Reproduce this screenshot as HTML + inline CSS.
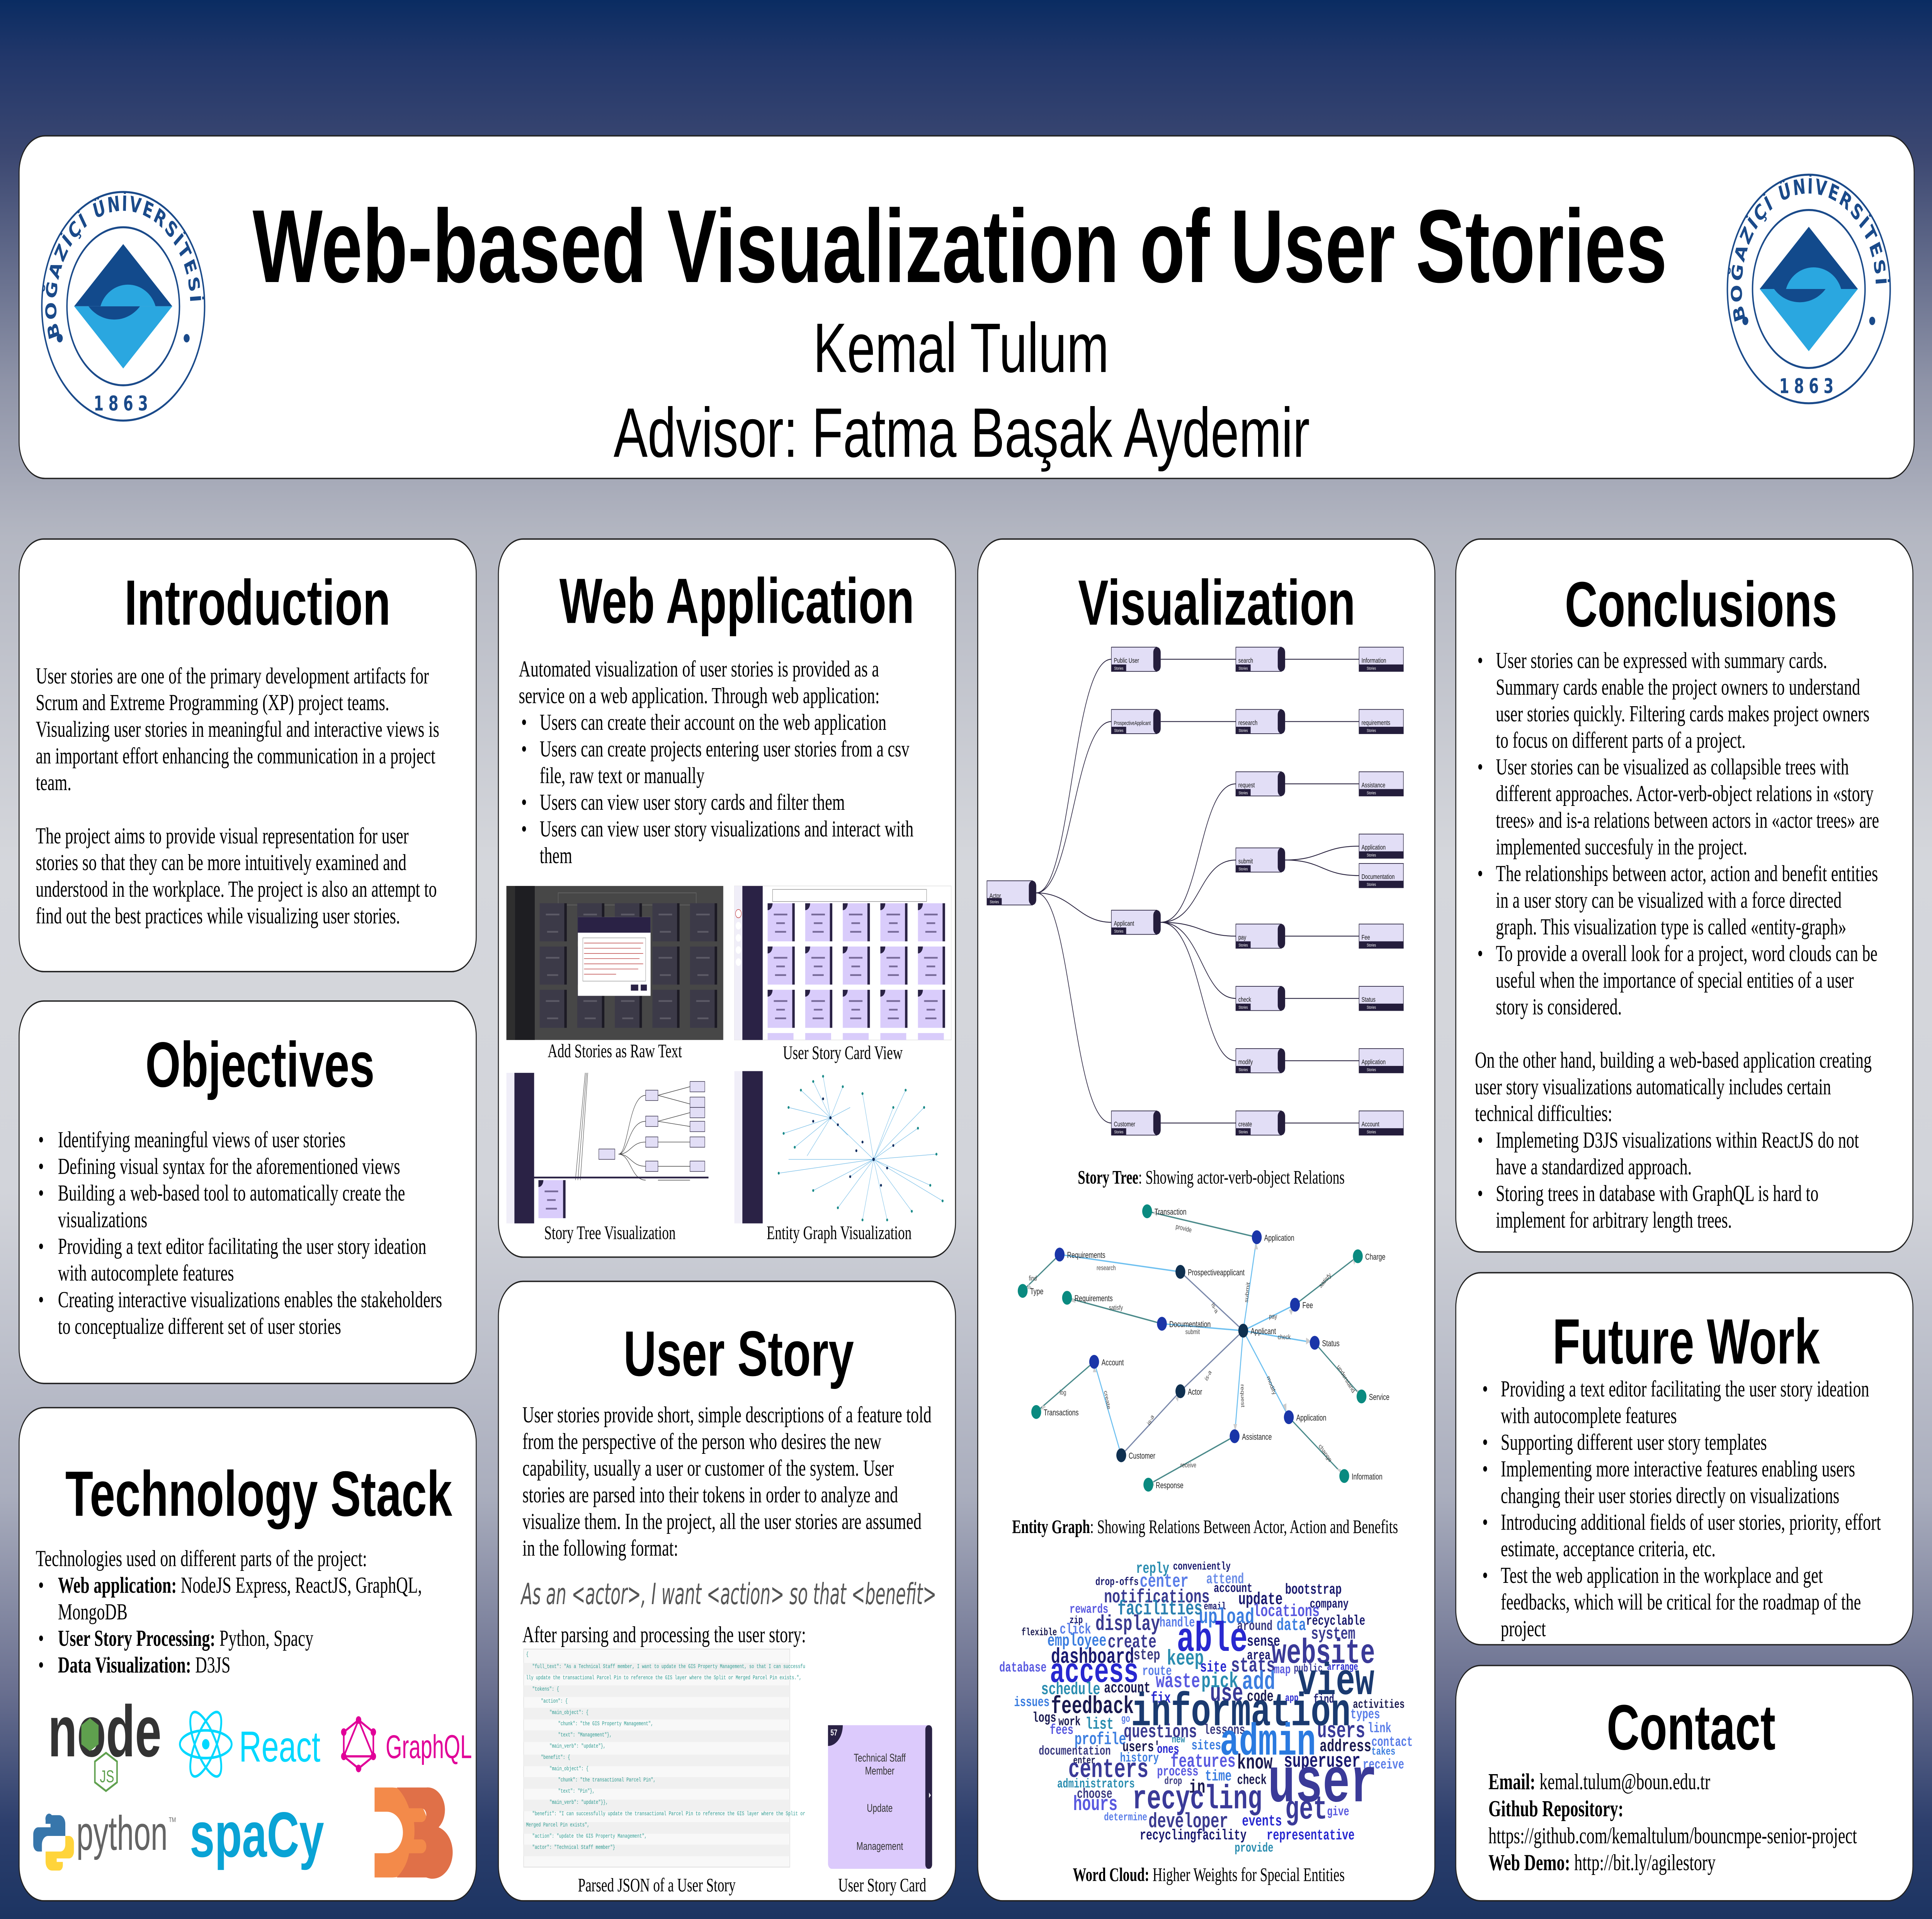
<!DOCTYPE html>
<html><head><meta charset="utf-8">
<style>
html,body{margin:0;padding:0;width:100%;height:100%;overflow:hidden;background:#b4b7c2}
#r{position:fixed;left:0;top:0;width:100vw;height:100vh;display:block}
.tt{font-family:"Liberation Sans",sans-serif;font-weight:bold}
.bd{font-family:"Liberation Serif",serif;font-size:13.2px;fill:#000}
.cp{font-family:"Liberation Serif",serif;font-size:11px;fill:#000}
</style></head><body>
<svg id="r" viewBox="0 0 1568 1109" preserveAspectRatio="none" xmlns="http://www.w3.org/2000/svg">
<defs>
<linearGradient id="bg" x1="0" y1="0" x2="0" y2="1">
<stop offset="0" stop-color="#0a2c62"/><stop offset="0.03" stop-color="#22376a"/><stop offset="0.08" stop-color="#3b4771"/><stop offset="0.2" stop-color="#8f94a8"/><stop offset="0.28" stop-color="#b4b7c2"/><stop offset="0.45" stop-color="#d5d7dc"/><stop offset="0.62" stop-color="#d2d4da"/><stop offset="0.78" stop-color="#a9adbd"/><stop offset="0.88" stop-color="#6a7090"/><stop offset="0.95" stop-color="#2d3f6d"/><stop offset="1" stop-color="#1c3462"/>
</linearGradient>
<symbol id="logo" viewBox="-70 -70 140 140" overflow="visible">
<circle cx="0" cy="0" r="68" fill="#fff" stroke="#1a4a8a" stroke-width="1.2"/>
<circle cx="0" cy="0" r="47" fill="none" stroke="#1a4a8a" stroke-width="1.2"/>
<path id="arc" d="M-52 20 A56 56 0 1 1 52 20" fill="none"/>
<text font-family="DejaVu Sans,sans-serif" font-weight="bold" font-size="12.5" fill="#1a4a8a" letter-spacing="1.2"><textPath href="#arc" startOffset="2">BOĞAZİÇİ ÜNİVERSİTESİ</textPath></text>
<text x="0" y="62" text-anchor="middle" font-family="DejaVu Sans,sans-serif" font-weight="bold" font-size="12" fill="#1a4a8a" letter-spacing="4">1863</text>
<circle cx="-53" cy="19" r="2.5" fill="#1a4a8a"/><circle cx="53" cy="19" r="2.5" fill="#1a4a8a"/>
<polygon points="0,-37 -41,0 41,0" fill="#124a8c"/>
<polygon points="0,37 -41,0 41,0" fill="#2aa7e0"/>
<path d="M-29 0 A27 20 0 0 0 14 0 Z" fill="#124a8c"/>
<path d="M-19 0 A24 18 0 0 1 27 0 Z" fill="#2aa7e0"/>
</symbol>
<symbol id="nd" overflow="visible">
<rect x="0" y="0" width="37" height="14" fill="#e2def6" stroke="#2a2440" stroke-width="0.4"/>
<rect x="34" y="0" width="6" height="14" rx="3" fill="#241d3c"/>
<rect x="0" y="10" width="12" height="4" fill="#241d3c"/>
<text x="6" y="13" font-size="2.4" fill="#fff" text-anchor="middle" font-family="Liberation Sans,sans-serif">Stories</text>
</symbol>
<symbol id="lf" overflow="visible">
<rect x="0" y="0" width="36" height="14" fill="#e2def6" stroke="#2a2440" stroke-width="0.4"/>
<rect x="0" y="10" width="36" height="4" fill="#241d3c"/>
<text x="10" y="13" font-size="2.4" fill="#fff" text-anchor="middle" font-family="Liberation Sans,sans-serif">Stories</text>
</symbol>
<symbol id="card" overflow="visible">
<rect x="0" y="0" width="21" height="22" fill="#d9ccfb"/><rect x="20" y="0" width="2" height="22" fill="#2a2245"/>
<path d="M0 0 H4 A4 4 0 0 1 0 4 Z" fill="#2a2245"/>
<rect x="5" y="6" width="11" height="1" fill="#776a99"/><rect x="7" y="11" width="7" height="1" fill="#776a99"/><rect x="6" y="16" width="9" height="1" fill="#776a99"/>
</symbol>
<symbol id="dcard" overflow="visible">
<rect x="0" y="0" width="21" height="22" fill="#3c3a48"/><rect x="20" y="0" width="2" height="22" fill="#1c1a24"/>
<rect x="5" y="6" width="11" height="1" fill="#5c5a66"/><rect x="6" y="16" width="9" height="1" fill="#5c5a66"/>
</symbol>
</defs>

<rect x="0" y="0" width="1568" height="1109" fill="url(#bg)"/>

<g fill="#fff" stroke="#222" stroke-width="0.8">
<rect x="15.5" y="78.5" width="1538" height="198" rx="21"/>
<rect x="15.5" y="311.5" width="371" height="250" rx="20"/>
<rect x="15.5" y="578.5" width="371" height="221" rx="20"/>
<rect x="15.5" y="813.5" width="371" height="285" rx="20"/>
<rect x="404.5" y="311.5" width="371" height="415" rx="20"/>
<rect x="404.5" y="740.5" width="371" height="358" rx="20"/>
<rect x="793.5" y="311.5" width="371" height="787" rx="20"/>
<rect x="1181.5" y="311.5" width="371" height="412" rx="20"/>
<rect x="1181.5" y="735.5" width="371" height="215" rx="20"/>
<rect x="1181.5" y="962.5" width="371" height="136" rx="20"/>
</g>

<use href="#logo" x="32" y="109" width="136" height="136"/>
<use href="#logo" x="1400" y="99" width="136" height="136"/>

<!-- titles -->
<g class="tt" fill="#000">
<text x="205" y="163" font-size="60" textLength="1148" lengthAdjust="spacingAndGlyphs">Web-based Visualization of User Stories</text>
<text x="660" y="215" font-size="40.5" font-weight="normal" textLength="240" lengthAdjust="spacingAndGlyphs">Kemal Tulum</text>
<text x="498" y="264" font-size="40.5" font-weight="normal" textLength="565" lengthAdjust="spacingAndGlyphs">Advisor: Fatma Başak Aydemir</text>
<text x="101" y="361" font-size="37" textLength="216" lengthAdjust="spacingAndGlyphs">Introduction</text>
<text x="118" y="628" font-size="37" textLength="186" lengthAdjust="spacingAndGlyphs">Objectives</text>
<text x="53" y="876" font-size="37" textLength="314" lengthAdjust="spacingAndGlyphs">Technology Stack</text>
<text x="454" y="360" font-size="37" textLength="288" lengthAdjust="spacingAndGlyphs">Web Application</text>
<text x="506" y="795" font-size="37" textLength="187" lengthAdjust="spacingAndGlyphs">User Story</text>
<text x="875" y="361" font-size="37" textLength="225" lengthAdjust="spacingAndGlyphs">Visualization</text>
<text x="1270" y="362" font-size="37" textLength="221" lengthAdjust="spacingAndGlyphs">Conclusions</text>
<text x="1260" y="788" font-size="37" textLength="217" lengthAdjust="spacingAndGlyphs">Future Work</text>
<text x="1304" y="1011" font-size="37" textLength="137" lengthAdjust="spacingAndGlyphs">Contact</text>
</g>

<!-- body text -->
<g class="bd">
<text y="395"><tspan x="29">User stories are one of the primary development artifacts for</tspan><tspan x="29" dy="15.4">Scrum and Extreme Programming (XP) project teams.</tspan><tspan x="29" dy="15.4">Visualizing user stories in meaningful and interactive views is</tspan><tspan x="29" dy="15.4">an important effort enhancing the communication in a project</tspan><tspan x="29" dy="15.4">team.</tspan><tspan x="29" dy="30.8">The project aims to provide visual representation for user</tspan><tspan x="29" dy="15.4">stories so that they can be more intuitively examined and</tspan><tspan x="29" dy="15.4">understood in the workplace. The project is also an attempt to</tspan><tspan x="29" dy="15.4">find out the best practices while visualizing user stories.</tspan></text>

<text y="663"><tspan x="31">•</tspan><tspan x="47">Identifying meaningful views of user stories</tspan><tspan x="31" dy="15.4">•</tspan><tspan x="47">Defining visual syntax for the aforementioned views</tspan><tspan x="31" dy="15.4">•</tspan><tspan x="47">Building a web-based tool to automatically create the</tspan><tspan x="47" dy="15.4">visualizations</tspan><tspan x="31" dy="15.4">•</tspan><tspan x="47">Providing a text editor facilitating the user story ideation</tspan><tspan x="47" dy="15.4">with autocomplete features</tspan><tspan x="31" dy="15.4">•</tspan><tspan x="47">Creating interactive visualizations enables the stakeholders</tspan><tspan x="47" dy="15.4">to conceptualize different set of user stories</tspan></text>

<text y="905"><tspan x="29">Technologies used on different parts of the project:</tspan><tspan x="31" dy="15.4">•</tspan><tspan x="47" font-weight="bold">Web application:</tspan><tspan> NodeJS Express, ReactJS, GraphQL,</tspan><tspan x="47" dy="15.4">MongoDB</tspan><tspan x="31" dy="15.4">•</tspan><tspan x="47" font-weight="bold">User Story Processing:</tspan><tspan> Python, Spacy</tspan><tspan x="31" dy="15.4">•</tspan><tspan x="47" font-weight="bold">Data Visualization:</tspan><tspan> D3JS</tspan></text>

<text y="391"><tspan x="421">Automated visualization of user stories is provided as a</tspan><tspan x="421" dy="15.4">service on a web application. Through web application:</tspan><tspan x="423" dy="15.4">•</tspan><tspan x="438">Users can create their account on the web application</tspan><tspan x="423" dy="15.4">•</tspan><tspan x="438">Users can create projects entering user stories from a csv</tspan><tspan x="438" dy="15.4">file, raw text or manually</tspan><tspan x="423" dy="15.4">•</tspan><tspan x="438">Users can view user story cards and filter them</tspan><tspan x="423" dy="15.4">•</tspan><tspan x="438">Users can view user story visualizations and interact with</tspan><tspan x="438" dy="15.4">them</tspan></text>

<text y="822"><tspan x="424">User stories provide short, simple descriptions of a feature told</tspan><tspan x="424" dy="15.4">from the perspective of the person who desires the new</tspan><tspan x="424" dy="15.4">capability, usually a user or customer of the system. User</tspan><tspan x="424" dy="15.4">stories are parsed into their tokens in order to analyze and</tspan><tspan x="424" dy="15.4">visualize them. In the project, all the user stories are assumed</tspan><tspan x="424" dy="15.4">in the following format:</tspan></text>
<text x="424" y="949">After parsing and processing the user story:</text>

<text y="386"><tspan x="1199">•</tspan><tspan x="1214">User stories can be expressed with summary cards.</tspan><tspan x="1214" dy="15.4">Summary cards enable the project owners to understand</tspan><tspan x="1214" dy="15.4">user stories quickly.  Filtering cards makes project owners</tspan><tspan x="1214" dy="15.4">to focus on different parts of a project.</tspan><tspan x="1199" dy="15.4">•</tspan><tspan x="1214">User stories can be visualized as collapsible trees with</tspan><tspan x="1214" dy="15.4">different approaches. Actor-verb-object relations in «story</tspan><tspan x="1214" dy="15.4">trees» and is-a relations between actors in «actor trees» are</tspan><tspan x="1214" dy="15.4">implemented succesfuly in the project.</tspan><tspan x="1199" dy="15.4">•</tspan><tspan x="1214">The relationships between actor, action and benefit entities</tspan><tspan x="1214" dy="15.4">in a user story can be visualized with a force directed</tspan><tspan x="1214" dy="15.4">graph. This visualization type is called «entity-graph»</tspan><tspan x="1199" dy="15.4">•</tspan><tspan x="1214">To provide a overall look for a project, word clouds can be</tspan><tspan x="1214" dy="15.4">useful when the importance of special entities of a user</tspan><tspan x="1214" dy="15.4">story is considered.</tspan><tspan x="1197" dy="30.8">On the other hand, building a web-based application creating</tspan><tspan x="1197" dy="15.4">user story visualizations automatically includes certain</tspan><tspan x="1197" dy="15.4">technical difficulties:</tspan><tspan x="1199" dy="15.4">•</tspan><tspan x="1214">Implemeting D3JS visualizations within ReactJS do not</tspan><tspan x="1214" dy="15.4">have a standardized approach.</tspan><tspan x="1199" dy="15.4">•</tspan><tspan x="1214">Storing trees in database with GraphQL is hard to</tspan><tspan x="1214" dy="15.4">implement for arbitrary length trees.</tspan></text>

<text y="807"><tspan x="1203">•</tspan><tspan x="1218">Providing a text editor facilitating the user story ideation</tspan><tspan x="1218" dy="15.4">with autocomplete features</tspan><tspan x="1203" dy="15.4">•</tspan><tspan x="1218">Supporting different user story templates</tspan><tspan x="1203" dy="15.4">•</tspan><tspan x="1218">Implementing more interactive features enabling users</tspan><tspan x="1218" dy="15.4">changing their user stories directly on visualizations</tspan><tspan x="1203" dy="15.4">•</tspan><tspan x="1218">Introducing additional fields of user stories, priority, effort</tspan><tspan x="1218" dy="15.4">estimate, acceptance criteria, etc.</tspan><tspan x="1203" dy="15.4">•</tspan><tspan x="1218">Test the web application in the workplace and get</tspan><tspan x="1218" dy="15.4">feedbacks, which will be critical for the roadmap of the</tspan><tspan x="1218" dy="15.4">project</tspan></text>

<text y="1034"><tspan x="1208" font-weight="bold">Email:</tspan><tspan> kemal.tulum@boun.edu.tr</tspan><tspan x="1208" dy="15.6" font-weight="bold">Github Repository:</tspan><tspan x="1208" dy="15.6">https://github.com/kemaltulum/bouncmpe-senior-project</tspan><tspan x="1208" dy="15.6" font-weight="bold">Web Demo:</tspan><tspan> http://bit.ly/agilestory</tspan></text>
</g>
<text x="423" y="927" font-family="DejaVu Sans,sans-serif" font-weight="200" font-style="italic" font-size="17" fill="#555" textLength="337" lengthAdjust="spacingAndGlyphs">As an &lt;actor&gt;, I want &lt;action&gt; so that &lt;benefit&gt;</text>

<g class="cp" text-anchor="middle">
<text x="499" y="611">Add Stories as Raw Text</text>
<text x="684" y="612">User Story Card View</text>
<text x="495" y="716">Story Tree Visualization</text>
<text x="681" y="716">Entity Graph Visualization</text>
<text x="983" y="684"><tspan font-weight="bold">Story Tree</tspan>: Showing actor-verb-object Relations</text>
<text x="978" y="886"><tspan font-weight="bold">Entity Graph</tspan>: Showing Relations Between Actor, Action and Benefits</text>
<text x="981" y="1087"><tspan font-weight="bold">Word Cloud:</tspan> Higher Weights for Special Entities</text>
<text x="533" y="1093">Parsed JSON of a User Story</text>
<text x="716" y="1093">User Story Card</text>
</g>

<!-- Add stories screenshot -->
<rect x="411" y="512" width="176" height="89" fill="#474747"/>
<rect x="411" y="512" width="7" height="89" fill="#2f2f2f"/>
<rect x="418" y="512" width="16" height="89" fill="#1e1e22"/>
<rect x="453" y="516" width="112" height="7" fill="none" stroke="#666" stroke-width="0.4"/>
<use href="#dcard" x="438" y="522"/><use href="#dcard" x="468.5" y="522"/><use href="#dcard" x="499" y="522"/><use href="#dcard" x="529.5" y="522"/><use href="#dcard" x="560" y="522"/>
<use href="#dcard" x="438" y="547"/><use href="#dcard" x="468.5" y="547"/><use href="#dcard" x="499" y="547"/><use href="#dcard" x="529.5" y="547"/><use href="#dcard" x="560" y="547"/>
<use href="#dcard" x="438" y="572"/><use href="#dcard" x="468.5" y="572"/><use href="#dcard" x="499" y="572"/><use href="#dcard" x="529.5" y="572"/><use href="#dcard" x="560" y="572"/>
<rect x="469" y="530" width="59" height="45.5" fill="#fff"/>
<rect x="469" y="530" width="59" height="9" fill="#2a2245"/>
<rect x="473" y="542" width="51" height="25" fill="#fff" stroke="#999" stroke-width="0.3"/>
<g stroke="#c05050" stroke-width="0.35"><line x1="474" y1="545" x2="522" y2="545"/><line x1="474" y1="548" x2="520" y2="548"/><line x1="474" y1="551" x2="522" y2="551"/><line x1="474" y1="554" x2="519" y2="554"/><line x1="474" y1="557" x2="522" y2="557"/><line x1="474" y1="560" x2="518" y2="560"/><line x1="474" y1="563" x2="500" y2="563"/></g>
<rect x="512" y="569" width="6" height="3.5" fill="#2a2245"/><rect x="520" y="569" width="5" height="3.5" fill="#2a2245"/>

<!-- Card view -->
<rect x="596" y="512" width="176" height="89" fill="#fff" stroke="#ddd" stroke-width="0.3"/>
<rect x="596" y="512" width="6.5" height="89" fill="#f0eef8"/>
<rect x="602.5" y="512" width="16.5" height="89" fill="#2a2245"/>
<circle cx="599.3" cy="528" r="2.4" fill="#fff" stroke="#c03030" stroke-width="0.3"/><circle cx="599.3" cy="535" r="2.2" fill="#fff"/><circle cx="599.3" cy="542" r="2.2" fill="#fff"/><circle cx="599.3" cy="549" r="2.2" fill="#fff"/><circle cx="599.3" cy="556" r="2.2" fill="#fff"/>
<rect x="627" y="514" width="125" height="7" fill="#fff" stroke="#888" stroke-width="0.3"/>
<use href="#card" x="623" y="522"/><use href="#card" x="653.5" y="522"/><use href="#card" x="684" y="522"/><use href="#card" x="714.5" y="522"/><use href="#card" x="745" y="522"/>
<use href="#card" x="623" y="547"/><use href="#card" x="653.5" y="547"/><use href="#card" x="684" y="547"/><use href="#card" x="714.5" y="547"/><use href="#card" x="745" y="547"/>
<use href="#card" x="623" y="572"/><use href="#card" x="653.5" y="572"/><use href="#card" x="684" y="572"/><use href="#card" x="714.5" y="572"/><use href="#card" x="745" y="572"/>
<g fill="#d9ccfb"><rect x="623" y="597" width="21" height="4"/><rect x="653.5" y="597" width="21" height="4"/><rect x="684" y="597" width="21" height="4"/><rect x="714.5" y="597" width="21" height="4"/><rect x="745" y="597" width="21" height="4"/></g>

<!-- Story tree screenshot -->
<rect x="411" y="620" width="168" height="87" fill="#fff"/>
<rect x="411" y="620" width="6.5" height="87" fill="#f0eef8"/>
<rect x="417.5" y="620" width="16" height="87" fill="#2a2245"/>
<g fill="none" stroke="#333" stroke-width="0.3">
<path d="M475 620 L467 682 M476 620 L469 682 M477 620 L471 682"/>
<path d="M502 667 C510 667 510 633 524 633"/><path d="M502 667 C510 667 510 648 524 648"/><path d="M502 667 C512 667 512 660 524 660"/><path d="M502 667 C512 667 512 674 524 674"/><path d="M502 667 C512 667 512 682 524 682"/>
<path d="M534 633 L560 628 M534 633 L560 638 M534 648 L560 643 M534 648 L560 651 M534 660 L560 660 M534 674 L560 674 M534 682 L560 682"/>
</g>
<rect x="433" y="680" width="142" height="1" fill="#2a2245"/>
<g fill="#e2def6" stroke="#2a2440" stroke-width="0.3">
<rect x="486" y="664" width="13" height="6"/><rect x="524" y="630" width="10" height="6"/><rect x="524" y="645" width="10" height="6"/><rect x="524" y="657" width="10" height="6"/><rect x="524" y="671" width="10" height="6"/>
<rect x="560" y="625" width="12" height="6"/><rect x="560" y="634" width="12" height="6"/><rect x="560" y="640" width="12" height="6"/><rect x="560" y="648" width="12" height="6"/><rect x="560" y="657" width="12" height="6"/><rect x="560" y="671" width="12" height="6"/>
</g>
<use href="#card" x="437" y="682"/>

<!-- Entity graph screenshot -->
<rect x="596" y="619" width="176" height="88" fill="#fff"/>
<rect x="596" y="619" width="6.5" height="88" fill="#f0eef8"/>
<rect x="602.5" y="619" width="16.5" height="88" fill="#2a2245"/>
<g stroke="#7cc0e8" stroke-width="0.3">
<line x1="709" y1="670" x2="674" y2="646"/>
<line x1="674" y1="646" x2="660" y2="625"/><line x1="674" y1="646" x2="650" y2="630"/><line x1="674" y1="646" x2="640" y2="640"/><line x1="674" y1="646" x2="636" y2="655"/><line x1="674" y1="646" x2="645" y2="663"/><line x1="674" y1="646" x2="668" y2="622"/><line x1="674" y1="646" x2="684" y2="628"/><line x1="674" y1="646" x2="690" y2="640"/><line x1="674" y1="646" x2="655" y2="668"/><line x1="674" y1="646" x2="688" y2="656"/>
<line x1="709" y1="670" x2="745" y2="652"/><line x1="709" y1="670" x2="760" y2="667"/><line x1="709" y1="670" x2="755" y2="685"/><line x1="709" y1="670" x2="740" y2="700"/><line x1="709" y1="670" x2="720" y2="705"/><line x1="709" y1="670" x2="700" y2="705"/><line x1="709" y1="670" x2="680" y2="698"/><line x1="709" y1="670" x2="660" y2="688"/><line x1="709" y1="670" x2="632" y2="678"/><line x1="709" y1="670" x2="640" y2="670"/><line x1="709" y1="670" x2="725" y2="640"/><line x1="709" y1="670" x2="700" y2="632"/><line x1="709" y1="670" x2="735" y2="630"/><line x1="709" y1="670" x2="750" y2="640"/><line x1="709" y1="670" x2="765" y2="694"/><line x1="709" y1="670" x2="690" y2="680"/>
</g>
<g fill="#0d2a5c">
<circle cx="709" cy="670" r="1"/><circle cx="674" cy="646" r="0.9"/><circle cx="700" cy="660" r="0.8"/><circle cx="720" cy="675" r="0.8"/><circle cx="690" cy="680" r="0.8"/><circle cx="695" cy="665" r="0.8"/><circle cx="680" cy="650" r="0.8"/><circle cx="725" cy="662" r="0.8"/><circle cx="715" cy="685" r="0.8"/><circle cx="660" cy="648" r="0.8"/><circle cx="668" cy="635" r="0.8"/>
</g>
<g fill="#1a8a88">
<circle cx="660" cy="625" r="0.8"/><circle cx="650" cy="630" r="0.8"/><circle cx="640" cy="640" r="0.8"/><circle cx="636" cy="655" r="0.8"/><circle cx="645" cy="663" r="0.8"/><circle cx="668" cy="622" r="0.8"/><circle cx="684" cy="628" r="0.8"/><circle cx="745" cy="652" r="0.8"/><circle cx="760" cy="667" r="0.8"/><circle cx="755" cy="685" r="0.8"/><circle cx="740" cy="700" r="0.8"/><circle cx="720" cy="705" r="0.8"/><circle cx="700" cy="705" r="0.8"/><circle cx="680" cy="698" r="0.8"/><circle cx="660" cy="688" r="0.8"/><circle cx="632" cy="678" r="0.8"/><circle cx="725" cy="640" r="0.8"/><circle cx="700" cy="632" r="0.8"/><circle cx="735" cy="630" r="0.8"/><circle cx="750" cy="640" r="0.8"/><circle cx="765" cy="694" r="0.8"/>
</g>

<!-- Story Tree -->
<g fill="none" stroke="#2a2440" stroke-width="0.5">
<path d="M841 516 C870 516 870 381 902 381"/><path d="M841 516 C870 516 872 417 902 417"/><path d="M841 516 C870 516 875 533 902 533"/><path d="M841 516 C870 516 870 649 902 649"/>
<path d="M942 381 H1003"/><path d="M942 417 H1003"/>
<path d="M942 533 C975 533 972 453 1003 453"/><path d="M942 533 C975 533 972 497 1003 497"/><path d="M942 533 C975 533 975 541 1003 541"/><path d="M942 533 C975 533 975 577 1003 577"/><path d="M942 533 C975 533 975 613 1003 613"/>
<path d="M942 649 H1003"/>
<path d="M1043 381 H1103"/><path d="M1043 417 H1103"/><path d="M1043 453 H1103"/>
<path d="M1043 497 C1073 497 1073 489 1103 489"/><path d="M1043 497 C1073 497 1073 506 1103 506"/>
<path d="M1043 541 H1103"/><path d="M1043 577 H1103"/><path d="M1043 613 H1103"/><path d="M1043 649 H1103"/>
</g>
<g font-family="Liberation Sans,sans-serif" font-size="4" fill="#111">
<use href="#nd" x="801" y="509"/><text x="803" y="519">Actor</text>
<use href="#nd" x="902" y="374"/><text x="904" y="383">Public User</text>
<use href="#nd" x="902" y="410"/><text x="904" y="419" font-size="3.2">ProspectiveApplicant</text>
<use href="#nd" x="902" y="526"/><text x="904" y="535">Applicant</text>
<use href="#nd" x="902" y="642"/><text x="904" y="651">Customer</text>
<use href="#nd" x="1003" y="374"/><text x="1005" y="383">search</text>
<use href="#nd" x="1003" y="410"/><text x="1005" y="419">research</text>
<use href="#nd" x="1003" y="446"/><text x="1005" y="455">request</text>
<use href="#nd" x="1003" y="490"/><text x="1005" y="499">submit</text>
<use href="#nd" x="1003" y="534"/><text x="1005" y="543">pay</text>
<use href="#nd" x="1003" y="570"/><text x="1005" y="579">check</text>
<use href="#nd" x="1003" y="606"/><text x="1005" y="615">modify</text>
<use href="#nd" x="1003" y="642"/><text x="1005" y="651">create</text>
<use href="#lf" x="1103" y="374"/><text x="1105" y="383">Information</text>
<use href="#lf" x="1103" y="410"/><text x="1105" y="419">requirements</text>
<use href="#lf" x="1103" y="446"/><text x="1105" y="455">Assistance</text>
<use href="#lf" x="1103" y="482"/><text x="1105" y="491">Application</text>
<use href="#lf" x="1103" y="499"/><text x="1105" y="508">Documentation</text>
<use href="#lf" x="1103" y="534"/><text x="1105" y="543">Fee</text>
<use href="#lf" x="1103" y="570"/><text x="1105" y="579">Status</text>
<use href="#lf" x="1103" y="606"/><text x="1105" y="615">Application</text>
<use href="#lf" x="1103" y="642"/><text x="1105" y="651">Account</text>
</g>

<!-- Entity graph -->
<g stroke-width="0.8">
<g stroke="#6ec0f0">
<line x1="1009" y1="769" x2="1020" y2="715"/><line x1="1009" y1="769" x2="1051" y2="754"/><line x1="1009" y1="769" x2="943" y2="765"/><line x1="1009" y1="769" x2="1067" y2="776"/><line x1="1009" y1="769" x2="1046" y2="819"/><line x1="1009" y1="769" x2="1002" y2="830"/><line x1="958" y1="735" x2="860" y2="725"/><line x1="910" y1="841" x2="888" y2="787"/>
</g>
<g stroke="#7a88aa"><line x1="1009" y1="769" x2="958" y2="735"/><line x1="1009" y1="769" x2="958" y2="804"/><line x1="910" y1="841" x2="958" y2="804"/></g>
<g stroke="#4a8a8a"><line x1="1020" y1="715" x2="931" y2="700"/><line x1="860" y1="725" x2="830" y2="746"/><line x1="1051" y1="754" x2="1102" y2="726"/><line x1="943" y1="765" x2="866" y2="750"/><line x1="1067" y1="776" x2="1105" y2="807"/><line x1="888" y1="787" x2="841" y2="816"/><line x1="1002" y1="830" x2="932" y2="858"/><line x1="1046" y1="819" x2="1091" y2="853"/></g>
</g>
<g fill="#ccc">
<polygon points="1018,722 1021,722 1019.5,718"/><polygon points="1046,757 1048,760 1050,756"/><polygon points="1060,773 1060,777 1064,775"/><polygon points="1041,812 1044,811 1044,816"/><polygon points="1001,823 1004,823 1002.5,827"/><polygon points="936,701 939,703 939,699"/><polygon points="835,742 838,745 833,745"/><polygon points="871,750 873,753 869,752"/><polygon points="846,812 849,813 845,815"/><polygon points="887,793 890,793 888,790"/><polygon points="1098,728 1099,731 1101,727"/><polygon points="1101,803 1102,806 1104,804"/><polygon points="936,856 937,859 934,857"/><polygon points="1085,849 1088,849 1089,852"/><polygon points="954,808 956,810 957,806"/><polygon points="962,809 965,810 960,812" opacity="0"/>
</g>
<g font-family="Liberation Sans,sans-serif" font-size="4" fill="#444">
<text x="954" y="710" transform="rotate(10 954 710)">provide</text><text x="890" y="734">research</text><text x="1004" y="743" transform="rotate(-82 1014 743)">submit</text><text x="983" y="754" transform="rotate(55 983 754)">is-a</text><text x="1030" y="762">pay</text><text x="1071" y="742" transform="rotate(-40 1075 742)">satisfy</text><text x="900" y="757">satisfy</text><text x="962" y="771">submit</text><text x="1037" y="774">check</text><text x="978" y="795" transform="rotate(-55 982 795)">is-a</text><text x="1028" y="796" transform="rotate(62 1028 796)">modify</text><text x="1007" y="800" transform="rotate(88 1007 800)">request</text><text x="1085" y="790" transform="rotate(50 1085 790)">understand</text><text x="860" y="806">log</text><text x="896" y="804" transform="rotate(75 896 804)">create</text><text x="933" y="824" transform="rotate(-55 933 824)">is-a</text><text x="1070" y="836" transform="rotate(45 1070 836)">change</text><text x="958" y="848">receive</text><text x="835" y="740">find</text>
</g>
<g>
<circle cx="931" cy="700" r="4" fill="#0a8a80"/><circle cx="1020" cy="715" r="4" fill="#1a35a8"/><circle cx="860" cy="725" r="4" fill="#1a35a8"/><circle cx="958" cy="735" r="4" fill="#0f3050"/><circle cx="830" cy="746" r="4" fill="#0a8a80"/><circle cx="1102" cy="726" r="4" fill="#0a8a80"/><circle cx="866" cy="750" r="4" fill="#0a8a80"/><circle cx="1051" cy="754" r="4" fill="#1a35a8"/><circle cx="943" cy="765" r="4" fill="#1a35a8"/><circle cx="1009" cy="769" r="4" fill="#0f3050"/><circle cx="1067" cy="776" r="4" fill="#1a35a8"/><circle cx="888" cy="787" r="4" fill="#1a35a8"/><circle cx="958" cy="804" r="4" fill="#0f3050"/><circle cx="1105" cy="807" r="4" fill="#0a8a80"/><circle cx="841" cy="816" r="4" fill="#0a8a80"/><circle cx="1046" cy="819" r="4" fill="#1a35a8"/><circle cx="1002" cy="830" r="4" fill="#1a35a8"/><circle cx="910" cy="841" r="4" fill="#0f3050"/><circle cx="932" cy="858" r="4" fill="#0a8a80"/><circle cx="1091" cy="853" r="4" fill="#0a8a80"/>
</g>
<g font-family="Liberation Sans,sans-serif" font-size="5" fill="#222">
<text x="937" y="702">Transaction</text><text x="1026" y="717">Application</text><text x="866" y="727">Requirements</text><text x="964" y="737">Prospectiveapplicant</text><text x="836" y="748">Type</text><text x="1108" y="728">Charge</text><text x="872" y="752">Requirements</text><text x="1057" y="756">Fee</text><text x="949" y="767">Documentation</text><text x="1015" y="771">Applicant</text><text x="1073" y="778">Status</text><text x="894" y="789">Account</text><text x="964" y="806">Actor</text><text x="1111" y="809">Service</text><text x="847" y="818">Transactions</text><text x="1052" y="821">Application</text><text x="1008" y="832">Assistance</text><text x="916" y="843">Customer</text><text x="938" y="860">Response</text><text x="1097" y="855">Information</text>
</g>

<!-- Word cloud -->
<g font-family="Liberation Mono,monospace" font-weight="bold">
<text x="922" y="909" font-size="9" fill="#2a8db0">reply</text>
<text x="952" y="907" font-size="6.5" fill="#1a1a6e">conveniently</text>
<text x="889" y="916" font-size="6.5" fill="#1a1a6e">drop-offs</text>
<text x="925" y="917" font-size="11" fill="#5a7de8">center</text>
<text x="979" y="915" font-size="8.5" fill="#6b8de8">attend</text>
<text x="985" y="920" font-size="7.5" fill="#1a1a6e">account</text>
<text x="1043" y="921" font-size="8.5" fill="#1a1a6e">bootstrap</text>
<text x="896" y="926" font-size="11" fill="#3a3a90">notifications</text>
<text x="1005" y="927" font-size="10" fill="#1a1a6e">update</text>
<text x="1063" y="929" font-size="7.5" fill="#1a1a6e">company</text>
<text x="868" y="932" font-size="7.5" fill="#5a5ae0">rewards</text>
<text x="907" y="933" font-size="11.5" fill="#2a80b0">facilities</text>
<text x="977" y="930" font-size="6" fill="#1a1a6e">email</text>
<text x="973" y="938" font-size="12.5" fill="#3c7ee0">upload</text>
<text x="1017" y="934" font-size="10" fill="#5a5ae0">locations</text>
<text x="868" y="938" font-size="6" fill="#1a1a6e">zip</text>
<text x="889" y="942" font-size="12.5" fill="#3a3a90">display</text>
<text x="941" y="940" font-size="8" fill="#5a7de8">handle</text>
<text x="1060" y="939" font-size="8" fill="#1a1a6e">recyclable</text>
<text x="829" y="945" font-size="6" fill="#1a1a50">flexible</text>
<text x="860" y="944" font-size="8.5" fill="#5a7de8">click</text>
<text x="1004" y="942" font-size="8" fill="#3a3a80">around</text>
<text x="1036" y="942" font-size="10" fill="#3c7ee0">data</text>
<text x="1064" y="947" font-size="10" fill="#3a3a90">system</text>
<text x="955" y="954" font-size="24" fill="#2828d0">able</text>
<text x="1012" y="951" font-size="9" fill="#1a1a6e">sense</text>
<text x="850" y="951" font-size="10" fill="#3c7ee0">employee</text>
<text x="899" y="952" font-size="11" fill="#3a3a90">create</text>
<text x="853" y="961" font-size="12.5" fill="#1a1a70">dashboard</text>
<text x="920" y="959" font-size="9" fill="#3a3a80">step</text>
<text x="947" y="962" font-size="12.5" fill="#2a8db0">keep</text>
<text x="1012" y="959" font-size="8" fill="#1a1a6e">area</text>
<text x="1032" y="961" font-size="20" fill="#3a3a98">website</text>
<text x="811" y="966" font-size="8" fill="#5a5ae0">database</text>
<text x="852" y="972" font-size="20" fill="#2828d0">access</text>
<text x="927" y="968" font-size="8" fill="#5a7de8">route</text>
<text x="974" y="966" font-size="9" fill="#2828d0">site</text>
<text x="999" y="966" font-size="12" fill="#3a3a98">stats</text>
<text x="1034" y="967" font-size="7.5" fill="#5a5ae0">map</text>
<text x="1050" y="966" font-size="6.5" fill="#3a3a98">public</text>
<text x="1077" y="965" font-size="6" fill="#2828d0">arrange</text>
<text x="938" y="975" font-size="12" fill="#5a5ae0">waste</text>
<text x="975" y="975" font-size="12.5" fill="#2a8db0">pick</text>
<text x="1008" y="976" font-size="15" fill="#3c7ee0">add</text>
<text x="1053" y="979" font-size="26" fill="#1a3a70">view</text>
<text x="845" y="979" font-size="10" fill="#2a8db0">schedule</text>
<text x="896" y="978" font-size="9" fill="#1a1a50">account</text>
<text x="982" y="983" font-size="15" fill="#3a3a98">use</text>
<text x="1012" y="983" font-size="9" fill="#1a1a50">code</text>
<text x="934" y="984" font-size="9" fill="#2828d0">fix</text>
<text x="1043" y="983" font-size="6" fill="#2828d0">app</text>
<text x="1066" y="984" font-size="7" fill="#1a1a6e">find</text>
<text x="1098" y="987" font-size="7" fill="#1a1a50">activities</text>
<text x="823" y="986" font-size="8" fill="#3c7ee0">issues</text>
<text x="853" y="990" font-size="14" fill="#1a1a50">feedback</text>
<text x="918" y="997" font-size="27" fill="#1a3a70">information</text>
<text x="838" y="995" font-size="8" fill="#1a1a50">logs</text>
<text x="859" y="997" font-size="7.5" fill="#1a1a50">work</text>
<text x="1096" y="993" font-size="8" fill="#5a7de8">types</text>
<text x="881" y="999" font-size="9.5" fill="#2a8db0">list</text>
<text x="910" y="995" font-size="6" fill="#5a7de8">go</text>
<text x="852" y="1002" font-size="8" fill="#5a5ae0">fees</text>
<text x="912" y="1004" font-size="11" fill="#3a3a90">questions</text>
<text x="977" y="1002" font-size="8" fill="#3a3a80">lessons</text>
<text x="1069" y="1004" font-size="13" fill="#3a3a98">users</text>
<text x="1110" y="1001" font-size="8" fill="#5a7de8">link</text>
<text x="872" y="1008" font-size="10" fill="#3c7ee0">profile</text>
<text x="990" y="1014" font-size="26" fill="#2a7ae0">admin</text>
<text x="911" y="1012" font-size="8.5" fill="#1a1a50">users'</text>
<text x="951" y="1007" font-size="6" fill="#2a8db0">new</text>
<text x="939" y="1013" font-size="7.5" fill="#2828d0">ones</text>
<text x="967" y="1011" font-size="8" fill="#3c7ee0">sites</text>
<text x="1071" y="1012" font-size="10" fill="#1a1a50">address</text>
<text x="1113" y="1009" font-size="8" fill="#5a7de8">contact</text>
<text x="1113" y="1014" font-size="6.5" fill="#3c7ee0">takes</text>
<text x="843" y="1014" font-size="7.5" fill="#3a3a80">documentation</text>
<text x="871" y="1019" font-size="6" fill="#1a1a50">enter</text>
<text x="909" y="1018" font-size="7.5" fill="#3c7ee0">history</text>
<text x="950" y="1021" font-size="11" fill="#5a5ae0">features</text>
<text x="1004" y="1022" font-size="12" fill="#1a1a50">know</text>
<text x="1042" y="1021" font-size="11.5" fill="#1a1a70">superuser</text>
<text x="1106" y="1022" font-size="8" fill="#5a7de8">receive</text>
<text x="867" y="1027" font-size="15.5" fill="#3a3a98">centers</text>
<text x="939" y="1026" font-size="8" fill="#5a5ae0">process</text>
<text x="978" y="1029" font-size="9" fill="#3c7ee0">time</text>
<text x="1004" y="1031" font-size="8" fill="#1a1a50">check</text>
<text x="1029" y="1041" font-size="37" fill="#3a3a98">user</text>
<text x="858" y="1033" font-size="7.5" fill="#2a8db0">administrators</text>
<text x="945" y="1031" font-size="6" fill="#3a3a80">drop</text>
<text x="965" y="1036" font-size="11" fill="#1a1a50">in</text>
<text x="874" y="1039" font-size="8" fill="#3a3a80">choose</text>
<text x="919" y="1045" font-size="19.5" fill="#3a3a98">recycling</text>
<text x="871" y="1046" font-size="12" fill="#5a5ae0">hours</text>
<text x="1043" y="1051" font-size="19" fill="#3a3a98">get</text>
<text x="1077" y="1049" font-size="7.5" fill="#5a5ae0">give</text>
<text x="896" y="1052" font-size="6.5" fill="#5a7de8">determine</text>
<text x="932" y="1056" font-size="12" fill="#3a3a90">developer</text>
<text x="1008" y="1055" font-size="9" fill="#2828d0">events</text>
<text x="925" y="1063" font-size="8.5" fill="#1a1a70">recyclingfacility</text>
<text x="1028" y="1063" font-size="8.5" fill="#2828d0">representative</text>
<text x="1002" y="1070" font-size="7.5" fill="#2a8db0">provide</text>
</g>

<!-- JSON -->
<rect x="425" y="953" width="216" height="126" fill="#f8f8f8" stroke="#e2e2e2" stroke-width="0.5"/>
<g fill="#f0f0f0"><rect x="425" y="961" width="216" height="6.7"/><rect x="425" y="974" width="216" height="6.7"/><rect x="425" y="987" width="216" height="6.7"/><rect x="425" y="1000" width="216" height="6.7"/><rect x="425" y="1014" width="216" height="6.7"/><rect x="425" y="1027" width="216" height="6.7"/><rect x="425" y="1040" width="216" height="6.7"/><rect x="425" y="1053" width="216" height="6.7"/><rect x="425" y="1066" width="216" height="6.7"/></g>
<g font-family="Liberation Mono,monospace" font-size="3.3" fill="#2a9a90">
<text x="427" y="957">{</text>
<text x="432" y="964">"full_text": "As a Technical Staff member, I want to update the GIS Property Management, so that I can successfu</text>
<text x="427" y="970.5">lly update the transactional Parcel Pin to reference the GIS layer where the Split or Merged Parcel Pin exists.",</text>
<text x="432" y="977">"tokens": {</text>
<text x="439" y="984">"action": {</text>
<text x="446" y="990.5">"main_object": {</text>
<text x="453" y="997">"chunk": "the GIS Property Management",</text>
<text x="453" y="1003.5">"text": "Management"},</text>
<text x="446" y="1010">"main_verb": "update"},</text>
<text x="439" y="1016.5">"benefit": {</text>
<text x="446" y="1023">"main_object": {</text>
<text x="453" y="1029.5">"chunk": "the transactional Parcel Pin",</text>
<text x="453" y="1036">"text": "Pin"},</text>
<text x="446" y="1042.5">"main_verb": "update"}},</text>
<text x="432" y="1049">"benefit": "I can successfully update the transactional Parcel Pin to reference the GIS layer where the Split or</text>
<text x="427" y="1055.5">Merged Parcel Pin exists",</text>
<text x="432" y="1062">"action": "update the GIS Property Management",</text>
<text x="432" y="1068.5">"actor": "Technical Staff member"}</text>
</g>

<!-- Story card -->
<rect x="672" y="997" width="84" height="83" rx="3" fill="#dccafc"/>
<rect x="751" y="997" width="5.5" height="83" rx="2.5" fill="#2a2245"/>
<path d="M672 997 H684 A12 12 0 0 1 672 1009 Z" fill="#2a2245"/>
<text x="674" y="1003" font-family="Liberation Sans,sans-serif" font-weight="bold" font-size="5" fill="#fff">57</text>
<path d="M754 1036 l1.5 1.5 l-1.5 1.5 z" fill="#fff"/>
<g font-family="Liberation Sans,sans-serif" font-size="6.5" fill="#333" text-anchor="middle">
<text x="714" y="1018">Technical Staff</text><text x="714" y="1025.5">Member</text><text x="714" y="1047">Update</text><text x="714" y="1069">Management</text>
</g>

<!-- Tech logos -->
<g font-family="Liberation Sans,sans-serif">
<text x="39" y="1015" font-size="42" font-weight="bold" fill="#333" textLength="92" lengthAdjust="spacingAndGlyphs">node</text>
<polygon points="66,997 73,993 80,997 80,1008 73,1012 66,1008" fill="#5fa04e"/>
<polygon points="86,1013 95,1018 95,1030 86,1035 77,1030 77,1018" fill="none" stroke="#5fa04e" stroke-width="1.2"/>
<text x="81" y="1030" font-size="10" fill="#5fa04e">JS</text>
<g fill="none" stroke="#00d8ff" stroke-width="1.5"><ellipse cx="167" cy="1008" rx="21" ry="8"/><ellipse cx="167" cy="1008" rx="21" ry="8" transform="rotate(60 167 1008)"/><ellipse cx="167" cy="1008" rx="21" ry="8" transform="rotate(-60 167 1008)"/></g>
<circle cx="167" cy="1008" r="3" fill="#00d8ff"/>
<text x="194" y="1018" font-size="25" fill="#00d8ff" textLength="66" lengthAdjust="spacingAndGlyphs">React</text>
<g stroke="#e10098" stroke-width="1.3" fill="none"><polygon points="291,994 303,1001 303,1015 291,1022 279,1015 279,1001"/><polygon points="291,994 303,1015 279,1015"/></g>
<g fill="#e10098"><circle cx="291" cy="994" r="2.2"/><circle cx="303" cy="1001" r="2.2"/><circle cx="303" cy="1015" r="2.2"/><circle cx="291" cy="1022" r="2.2"/><circle cx="279" cy="1015" r="2.2"/><circle cx="279" cy="1001" r="2.2"/></g>
<text x="313" y="1016" font-size="19" fill="#e10098" textLength="70" lengthAdjust="spacingAndGlyphs">GraphQL</text>
<path d="M42 1049 h6 a5 5 0 0 1 5 5 v7 h-14 a5 5 0 0 0 -5 5 v4 h-3 a4 4 0 0 1 -4 -4 v-6 a4 4 0 0 1 4 -4 h10 v-2 h-4 v-2 a3 3 0 0 1 5 -3z" fill="#3776ab"/>
<path d="M53 1061 h3 a4 4 0 0 1 4 4 v5 a4 4 0 0 1 -4 4 h-10 v2 h5 v2 a3 3 0 0 1 -3 3 h-6 a5 5 0 0 1 -5 -5 v-6 h12 a4 4 0 0 0 4 -4z" fill="#ffd43b"/>
<text x="62" y="1069" font-size="28" fill="#646464" textLength="74" lengthAdjust="spacingAndGlyphs">python</text>
<text x="137" y="1053" font-size="4" fill="#646464">TM</text>
<text x="154" y="1073" font-size="37" font-weight="bold" fill="#09a3d5" textLength="109" lengthAdjust="spacingAndGlyphs">spaCy</text>
<path d="M304 1033 h14 a30 26 0 0 1 0 52 h-14 v-14 h10 a13 12 0 0 0 0 -24 h-10 z" fill="#f38a4a"/>
<path d="M322 1033 h24 a14 13 0 0 1 10 23 a14 13 0 0 1 -10 29 h-24 a36 26 0 0 0 10 -14 h10 a4 4 0 0 0 0 -8 h-6 a30 30 0 0 0 0 -10 h6 a4 4 0 0 0 0 -8 h-10 a30 30 0 0 0 -10 -12z" fill="#e07048"/>
</g>
</svg>
</body></html>
